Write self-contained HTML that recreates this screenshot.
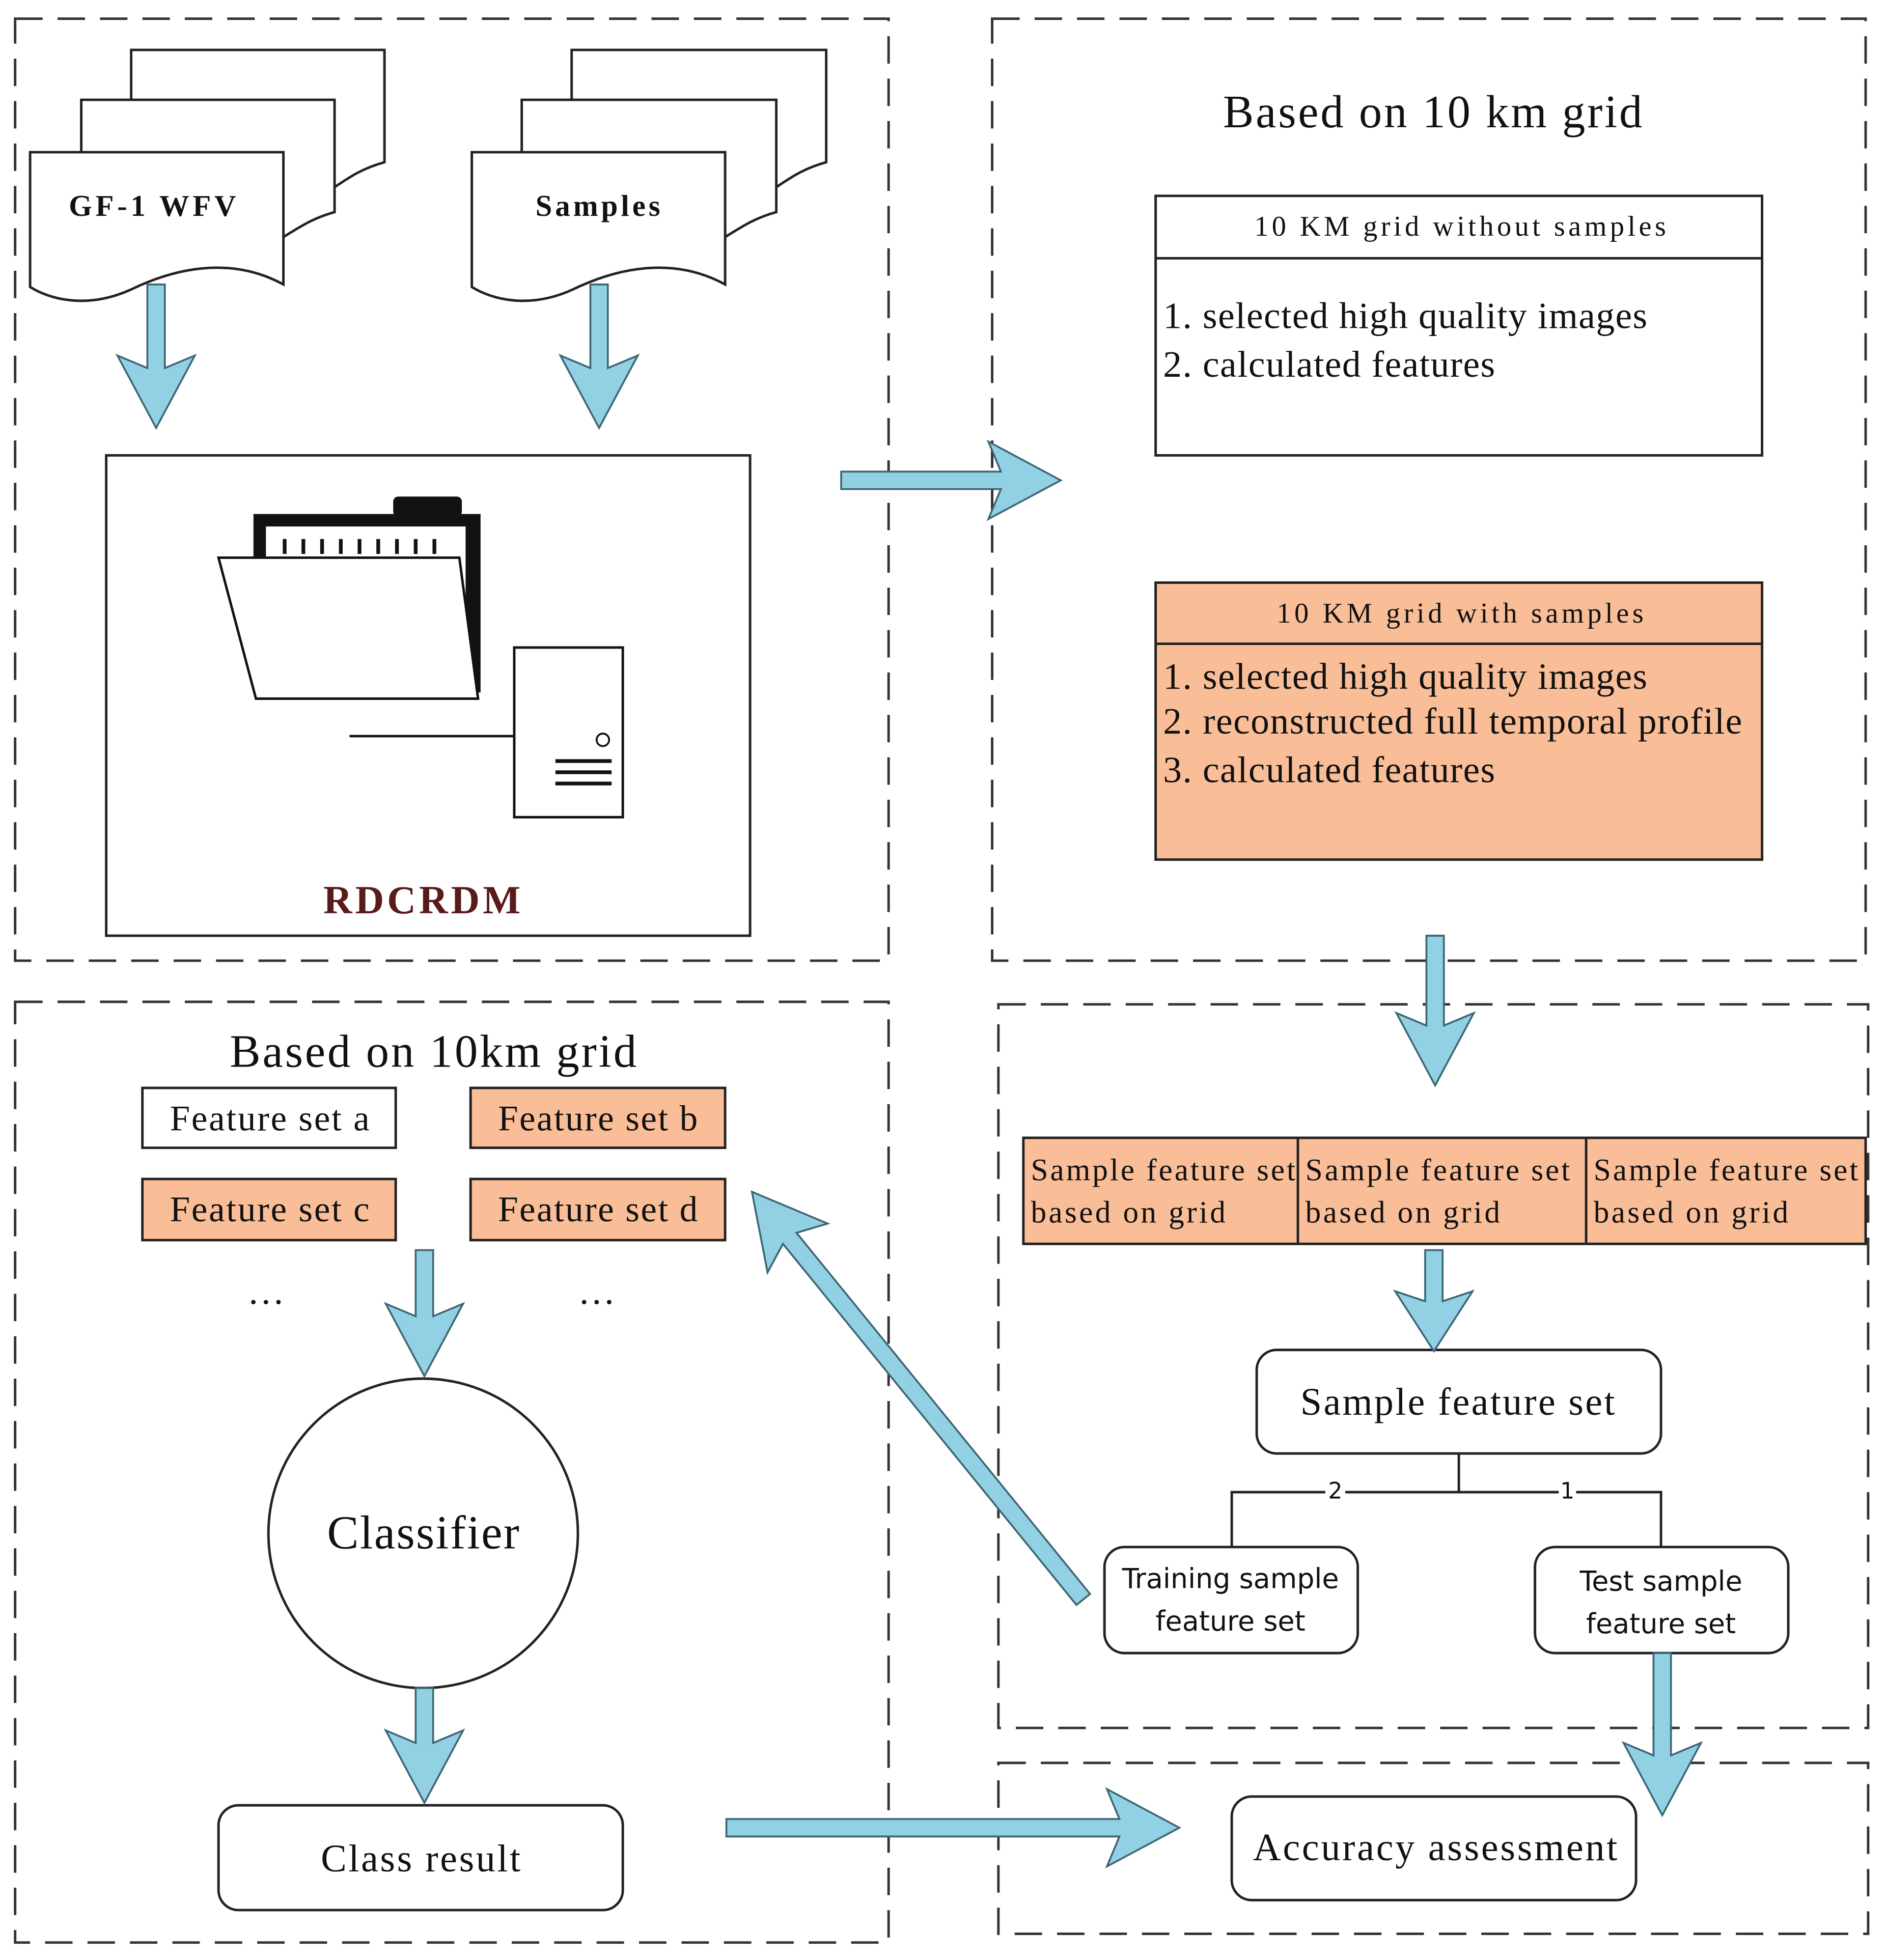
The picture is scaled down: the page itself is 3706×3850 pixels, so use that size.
<!DOCTYPE html>
<html><head><meta charset="utf-8"><style>
html,body{margin:0;padding:0;background:#fff}
svg{display:block}
text{font-family:"Liberation Serif",serif;fill:#111}
.s{font-family:"DejaVu Sans","Liberation Sans",sans-serif}
</style></head><body>
<svg width="3706" height="3850" viewBox="0 0 1512 1571" xmlns="http://www.w3.org/2000/svg">
<defs>
<style>.d{fill:none;stroke:#333;stroke-width:2;stroke-dasharray:22,12}.a{fill:#92d1e3;stroke:#3d6675;stroke-width:1.5}.b{fill:#fff;stroke:#222;stroke-width:2}.o{fill:#f9be98;stroke:#222;stroke-width:2}</style>
</defs>
<rect width="1512" height="1571" fill="#fff"/>
<rect class="d" x="12" y="15" width="700" height="755"/>
<rect class="d" x="795" y="15" width="700" height="755"/>
<rect class="d" x="12" y="803" width="700" height="754"/>
<rect class="d" x="800" y="805" width="697" height="580"/>
<rect class="d" x="800" y="1413" width="697" height="137"/>

<g class="b">
<path d="M105,40H308V130C290,135 280,142 268,150V145H105Z"/>
<path d="M65,80H268V170C250,175 240,182 227,190V185H65Z"/>
<path d="M24,122H227V228C185,205 140,215 105,232C70,248 40,240 24,230Z"/>
<path d="M458,40H662V130C644,135 634,142 622,150V145H458Z"/>
<path d="M418,80H622V170C604,175 594,182 581,190V185H418Z"/>
<path d="M378,122H581V228C539,205 494,215 459,232C424,248 394,240 378,230Z"/>
</g>
<text x="122" y="173" font-size="24" font-weight="bold" text-anchor="middle" textLength="134">GF-1 WFV</text>
<text x="479" y="173" font-size="24" font-weight="bold" text-anchor="middle" textLength="100">Samples</text>

<rect class="b" x="85" y="365" width="516" height="385"/>
<rect x="315" y="398" width="55" height="16" rx="4" fill="#111"/>
<path d="M203,412H385V555H203Z" fill="#111"/>
<rect x="213" y="422" width="160" height="124" fill="#fff"/>
<g stroke="#111" stroke-width="3"><path d="M228,432v12M243,432v12M258,432v12M273,432v12M288,432v12M303,432v12M318,432v12M333,432v12M348,432v12"/></g>
<path d="M175,447H368L383,560H205Z" fill="#fff" stroke="#111" stroke-width="2"/>
<line x1="280" y1="590" x2="412" y2="590" stroke="#111" stroke-width="2"/>
<rect x="412" y="519" width="87" height="136" fill="#fff" stroke="#111" stroke-width="2"/>
<circle cx="483" cy="593" r="5" fill="none" stroke="#111" stroke-width="1.5"/>
<g stroke="#111" stroke-width="3"><path d="M445,610H490M445,619H490M445,628H490"/></g>
<text x="338" y="732" font-size="32" font-weight="bold" text-anchor="middle" textLength="158" style="fill:#5a1a1a">RDCRDM</text>

<text x="1148" y="102" font-size="37" text-anchor="middle" textLength="336">Based on 10 km grid</text>
<rect class="b" x="926" y="157" width="486" height="208"/>
<line x1="926" y1="207" x2="1412" y2="207" stroke="#222" stroke-width="2"/>
<text x="1170" y="189" font-size="23" text-anchor="middle" textLength="330">10 KM grid without samples</text>
<text x="932" y="263" font-size="30" textLength="388">1. selected high quality images</text>
<text x="932" y="302" font-size="30" textLength="266">2. calculated features</text>
<rect class="o" x="926" y="467" width="486" height="222"/>
<line x1="926" y1="516" x2="1412" y2="516" stroke="#222" stroke-width="2"/>
<text x="1170" y="499" font-size="23" text-anchor="middle" textLength="294">10 KM grid with samples</text>
<text x="932" y="552" font-size="30" textLength="388">1. selected high quality images</text>
<text x="932" y="588" font-size="30" textLength="464">2. reconstructed full temporal profile</text>
<text x="932" y="627" font-size="30" textLength="266">3. calculated features</text>

<rect class="o" x="820" y="912" width="675" height="85"/>
<line x1="1040" y1="912" x2="1040" y2="997" stroke="#222" stroke-width="2"/>
<line x1="1271" y1="912" x2="1271" y2="997" stroke="#222" stroke-width="2"/>
<g font-size="25">
<text x="826" y="946" textLength="212">Sample feature set</text><text x="826" y="980" textLength="156">based on grid</text>
<text x="1046" y="946" textLength="212">Sample feature set</text><text x="1046" y="980" textLength="156">based on grid</text>
<text x="1277" y="946" textLength="212">Sample feature set</text><text x="1277" y="980" textLength="156">based on grid</text>
</g>
<rect class="b" x="1007" y="1082" width="324" height="83" rx="16"/>
<text x="1168" y="1134" font-size="31" text-anchor="middle" textLength="252">Sample feature set</text>
<path d="M1169,1165V1196M987,1240V1196H1331V1240" fill="none" stroke="#222" stroke-width="2"/>
<rect x="1062" y="1186" width="16" height="18" fill="#fff"/><text x="1070" y="1201" font-size="18" text-anchor="middle" class="s">2</text>
<rect x="1249" y="1186" width="14" height="18" fill="#fff"/><text x="1256" y="1201" font-size="18" text-anchor="middle" class="s">1</text>
<rect class="b" x="885" y="1240" width="203" height="85" rx="16"/>
<text class="s" x="986" y="1273" font-size="22" text-anchor="middle">Training sample</text>
<text class="s" x="986" y="1307" font-size="22" text-anchor="middle">feature set</text>
<rect class="b" x="1230" y="1240" width="203" height="85" rx="16"/>
<text class="s" x="1331" y="1275" font-size="22" text-anchor="middle">Test sample</text>
<text class="s" x="1331" y="1309" font-size="22" text-anchor="middle">feature set</text>
<rect class="b" x="987" y="1440" width="324" height="83" rx="16"/>
<text x="1150" y="1491" font-size="31" text-anchor="middle" textLength="292">Accuracy assessment</text>

<text x="347" y="855" font-size="37" text-anchor="middle" textLength="326">Based on 10km grid</text>
<rect class="b" x="114" y="872" width="203" height="48"/>
<text x="216" y="906" font-size="29" text-anchor="middle" textLength="160">Feature set a</text>
<rect class="o" x="377" y="872" width="204" height="48"/>
<text x="479" y="906" font-size="29" text-anchor="middle" textLength="160">Feature set b</text>
<rect class="o" x="114" y="945" width="203" height="49"/>
<text x="216" y="979" font-size="29" text-anchor="middle" textLength="160">Feature set c</text>
<rect class="o" x="377" y="945" width="204" height="49"/>
<text x="479" y="979" font-size="29" text-anchor="middle" textLength="160">Feature set d</text>
<text x="213" y="1045" font-size="30" text-anchor="middle">…</text>
<text x="478" y="1045" font-size="30" text-anchor="middle">…</text>
<circle cx="339" cy="1229" r="124" fill="#fff" stroke="#222" stroke-width="2"/>
<text x="339" y="1241" font-size="38" text-anchor="middle" textLength="154">Classifier</text>
<rect class="b" x="175" y="1447" width="324" height="84" rx="16"/>
<text x="337" y="1500" font-size="31" text-anchor="middle" textLength="160">Class result</text>

<g class="a">
<polygon transform="translate(125,228) rotate(90)" points="0,-7 67,-7 57,-31 115,0 57,31 67,7 0,7"/>
<polygon transform="translate(480,228) rotate(90)" points="0,-7 67,-7 57,-31 115,0 57,31 67,7 0,7"/>
<polygon transform="translate(674,385)" points="0,-7 128,-7 118,-31 176,0 118,31 128,7 0,7"/>
<polygon transform="translate(1150,750) rotate(90)" points="0,-7 72,-7 62,-31 120,0 62,31 72,7 0,7"/>
<polygon transform="translate(1149,1002) rotate(90)" points="0,-7 41,-7 33,-31 81,0 33,31 41,7 0,7"/>
<polygon transform="translate(340,1002) rotate(90)" points="0,-7 53,-7 43,-31 101,0 43,31 53,7 0,7"/>
<polygon transform="translate(340,1353) rotate(90)" points="0,-7 44,-7 34,-31 92,0 34,31 44,7 0,7"/>
<polygon transform="translate(1332,1325) rotate(90)" points="0,-7 82,-7 72,-31 130,0 72,31 82,7 0,7"/>
<polygon transform="translate(582,1465)" points="0,-7 315,-7 305,-31 363,0 305,31 315,7 0,7"/>
<polygon transform="translate(868,1282) rotate(-129.1)" points="0,-7 373,-7 363,-31 421,0 363,31 373,7 0,7"/>
</g>
</svg>
</body></html>
